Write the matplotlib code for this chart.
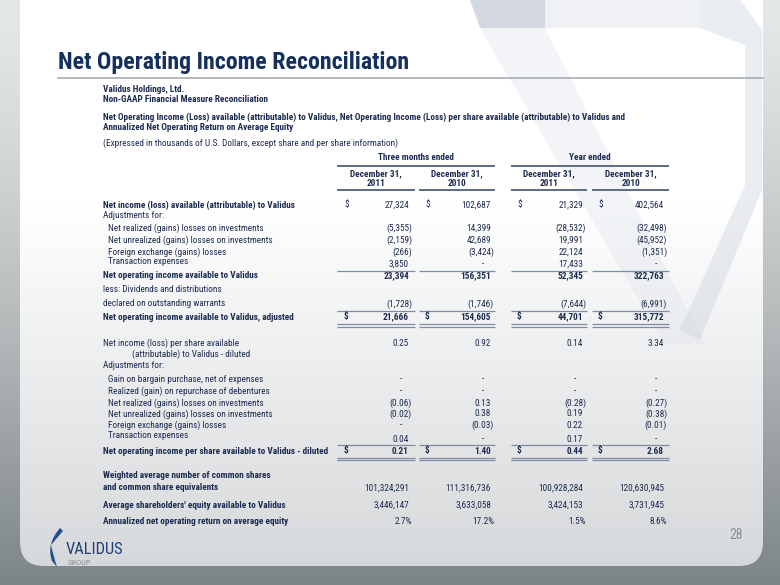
import numpy as np
import matplotlib
matplotlib.use("Agg")
import matplotlib.pyplot as plt
from matplotlib.patches import FancyBboxPatch, Polygon, PathPatch
from matplotlib.path import Path
from matplotlib import font_manager

# ---------------- data ----------------
header_lines = ["Validus Holdings, Ltd.",
                "Non-GAAP Financial Measure Reconciliation"]
subtitle_lines = ["Net Operating Income (Loss) available (attributable) to Validus, Net Operating Income (Loss) per share available (attributable) to Validus and",
                  "Annualized Net Operating Return on Average Equity"]
note = "(Expressed in thousands of U.S. Dollars, except share and per share information)"
period_labels = ["Three months ended", "Year ended"]
date_labels = ["December 31,", "December 31,", "December 31,", "December 31,"]
year_labels = ["2011", "2010", "2011", "2010"]

net_income = [27324, 102687, 21329, 402564]
realized = [-5355, 14399, -28532, -32498]
unrealized = [-2159, 42689, 19991, -45952]
fx = [-266, -3424, 22124, -1351]
transaction = [3850, None, 17433, None]
noi = [23394, 156351, 52345, 322763]
warrants = [-1728, -1746, -7644, -6991]
noi_adj = [21666, 154605, 44701, 315772]

eps = [0.25, 0.92, 0.14, 3.34]
ps_bargain = [None, None, None, None]
ps_debentures = [None, None, None, None]
ps_realized = [-0.06, 0.13, -0.28, -0.27]
ps_unrealized = [-0.02, 0.38, 0.19, -0.38]
ps_fx = [None, -0.03, 0.22, -0.01]
ps_transaction = [0.04, None, 0.17, None]
noi_ps = [0.21, 1.40, 0.44, 2.68]

shares = [101324291, 111316736, 100928284, 120630945]
equity = [3446147, 3633058, 3424153, 3731945]
roe = [2.7, 17.2, 1.5, 8.6]

# ---------------- style ----------------
available = {f.name for f in font_manager.fontManager.ttflist}
FONT = None
for cand in ['Liberation Sans Narrow', 'Roboto Condensed', 'Open Sans Condensed', 'Roboto', 'Liberation Sans']:
    if cand in available:
        FONT = [cand, 'DejaVu Sans']
        break
if FONT is None:
    FONT = ['DejaVu Sans']

NAVY = '#1c2b4f'
LINE = '#7d8ba3'

fig = plt.figure(figsize=(7.8, 5.85), dpi=100)
ax = fig.add_axes([0, 0, 1, 1])
ax.set_xlim(0, 780)
ax.set_ylim(585, 0)
ax.axis('off')
renderer = fig.canvas.get_renderer()


def calibrate(s, target_px, base=10.0, bold=True):
    tmp = ax.text(0, 0, s, fontsize=base, fontweight='bold' if bold else 'normal', family=FONT)
    w = tmp.get_window_extent(renderer=renderer).width
    tmp.remove()
    return base * target_px / w


FS = min(calibrate("Net income (loss) available (attributable) to Validus", 192), 7.6)
TITLE_FS = calibrate("Net Operating Income Reconciliation", 350)
LOGO_FS = calibrate("VALIDUS", 58, bold=False)

# background gradient (outer gray)
g = np.linspace(0, 1, 256)[:, None]
outer = np.zeros((256, 1, 3))
top_c = np.array([0.90, 0.91, 0.91]); bot_c = np.array([0.49, 0.52, 0.53])
outer[:, 0, :] = top_c + (bot_c - top_c) * g ** 1.3
ax.imshow(outer, extent=[0, 780, 585, 0], aspect='auto', zorder=0)

# panel
panel = FancyBboxPatch((20, -40), 743, 606, boxstyle="round,pad=0,rounding_size=24",
                       facecolor='none', edgecolor='none', zorder=1)
ax.add_patch(panel)
inner = np.zeros((256, 1, 3))
p_top = np.array([1.0, 1.0, 1.0]); p_bot = np.array([0.83, 0.84, 0.85])
inner[:, 0, :] = p_top + (p_bot - p_top) * np.clip((g - 0.35) / 0.65, 0, 1)
im = ax.imshow(inner, extent=[0, 780, 585, 0], aspect='auto', zorder=1)
im.set_clip_path(panel)

# faint watermark V
wm = [
    ([(470, 0), (545, 0), (545, 28), (480, 28)], '#c5ccd8', 0.75),
    ([(545, 0), (700, 0), (700, 28), (545, 28)], '#e6e9ef', 0.6),
    ([(480, 28), (545, 28), (705, 345), (665, 345)], '#e3e7ee', 0.45),
    ([(700, 0), (740, 0), (762, 30), (762, 190), (700, 340), (680, 330), (745, 185), (745, 45), (700, 28)],
     '#cfd5df', 0.45),
]
for verts, col, a in wm:
    p = Polygon(verts, closed=True, facecolor=col, edgecolor='none', alpha=a, zorder=2)
    ax.add_patch(p)
    p.set_clip_path(panel)

# title
ax.text(58, 62, "Net Operating Income Reconciliation", fontsize=TITLE_FS, fontweight='bold',
        color='#15305e', family=FONT, va='center', ha='left', zorder=5)
ax.plot([58, 763], [78, 78], color='#a7adb5', lw=1.2, zorder=5)


def t(x, y, s, bold=False, ha='left', color=NAVY, fs=None):
    ax.text(x, y, s, fontsize=FS if fs is None else fs, fontweight='bold' if bold else 'normal',
            color=color, family=FONT, ha=ha, va='center', zorder=6)


def hline(x0, x1, y, lw=0.9, color=LINE):
    ax.plot([x0, x1], [y, y], color=color, lw=lw, zorder=6, solid_capstyle='butt')


t(103, 89, header_lines[0], bold=True)
t(103, 100, header_lines[1], bold=True)
t(103, 117, subtitle_lines[0], bold=True)
t(103, 128, subtitle_lines[1], bold=True)
t(103, 143, note)

R = [409, 491, 583, 664]
DOL = [344, 425, 517, 598]
SPAN = [(337, 415), (419, 495), (511, 587), (592, 669)]
CEN = [(a + b) / 2 for a, b in SPAN]

# column headers
t((SPAN[0][0] + SPAN[1][1]) / 2, 157, period_labels[0], bold=True, ha='center')
t((SPAN[2][0] + SPAN[3][1]) / 2, 157, period_labels[1], bold=True, ha='center')
hline(SPAN[0][0], SPAN[1][1], 165.5, lw=1.4, color='#5b6c8c')
hline(SPAN[2][0], SPAN[3][1], 165.5, lw=1.4, color='#5b6c8c')
for i in range(4):
    t(CEN[i], 173.5, date_labels[i], bold=True, ha='center')
    t(CEN[i], 184, year_labels[i], bold=True, ha='center')
    hline(SPAN[i][0], SPAN[i][1], 189.5, lw=1.4, color='#5b6c8c')


def fmt(v, dec=0, pct=False):
    if v is None:
        return "-"
    s = f"{abs(v):,.{dec}f}" + ("%" if pct else "")
    return f"({s})" if v < 0 else s


def row(y, label, vals, x=103, bold=False, vbold=None, dollar=False, dec=0, pct=False, vy=None):
    t(x, y, label, bold=bold)
    if vals is None:
        return
    vb = bold if vbold is None else vbold
    yy = y if vy is None else vy
    for i, v in enumerate(vals):
        s = fmt(v, dec, pct)
        if v is None:
            xr = R[i] - 7
        elif v < 0 or pct:
            xr = R[i] + 3
        else:
            xr = R[i]
        t(xr, yy, s, bold=vb, ha='right')
        if dollar:
            t(DOL[i], yy, "$", bold=vb)


row(205, "Net income (loss) available (attributable) to Validus", net_income, bold=True, vbold=False, dollar=True)
row(216, "Adjustments for:", None)
row(228, "Net realized (gains) losses on investments", realized, x=108)
row(240, "Net unrealized (gains) losses on investments", unrealized, x=108)
row(252, "Foreign exchange (gains) losses", fx, x=108)
row(262, "Transaction expenses", transaction, x=108, vy=264)
for a, b in SPAN:
    hline(a, b, 270.5)
row(276, "Net operating income available to Validus", noi, bold=True)
row(289, "less: Dividends and distributions", None)
row(304, "declared on outstanding warrants", warrants)
for a, b in SPAN:
    hline(a, b, 311)
row(317, "Net operating income available to Validus, adjusted", noi_adj, bold=True, dollar=True)
for a, b in SPAN:
    hline(a, b, 324)
    hline(a, b, 326.5)

row(343, "Net income (loss) per share available", eps, dec=2)
row(354, "(attributable) to Validus - diluted", None, x=132)
row(366, "Adjustments for:", None)
row(379, "Gain on bargain purchase, net of expenses", ps_bargain, x=108, dec=2)
row(391, "Realized (gain) on repurchase of debentures", ps_debentures, x=108, dec=2)
row(403, "Net realized (gains) losses on investments", ps_realized, x=108, dec=2)
row(414, "Net unrealized (gains) losses on investments", ps_unrealized, x=108, dec=2)
row(425, "Foreign exchange (gains) losses", ps_fx, x=108, dec=2)
row(435, "Transaction expenses", ps_transaction, x=108, dec=2, vy=439)
for a, b in SPAN:
    hline(a, b, 445)
row(451, "Net operating income per share available to Validus - diluted", noi_ps, bold=True, dec=2, dollar=True)
for a, b in SPAN:
    hline(a, b, 457.5)
    hline(a, b, 460)

row(476, "Weighted average number of common shares", None, bold=True)
row(488, "and common share equivalents", shares, bold=True, vbold=False)
row(505, "Average shareholders' equity available to Validus", equity, bold=True, vbold=False)
row(522, "Annualized net operating return on average equity", roe, bold=True, vbold=False, dec=1, pct=True)

# logo
verts = [(60, 528), (46, 544), (52, 561), (57, 567), (54, 558), (51, 545), (63, 531), (60, 528)]
codes = [Path.MOVETO, Path.CURVE3, Path.CURVE3, Path.LINETO, Path.CURVE3, Path.CURVE3, Path.LINETO, Path.CLOSEPOLY]
ax.add_patch(PathPatch(Path(verts, codes), facecolor='#1f4f8f', edgecolor='none', zorder=6))
ax.text(66, 550, "VALIDUS", fontsize=LOGO_FS, color='#1f3f7a', family=FONT, ha='left', va='center', zorder=6)
ax.text(67, 563, "GROUP", fontsize=LOGO_FS * 0.5, color='#8a9098', family=FONT, ha='left', va='center', zorder=6)

ax.text(736, 535, "28", fontsize=10, color='#8a8f94', family=FONT, ha='center', va='center', zorder=6)

fig.savefig("out.png", dpi=100)
